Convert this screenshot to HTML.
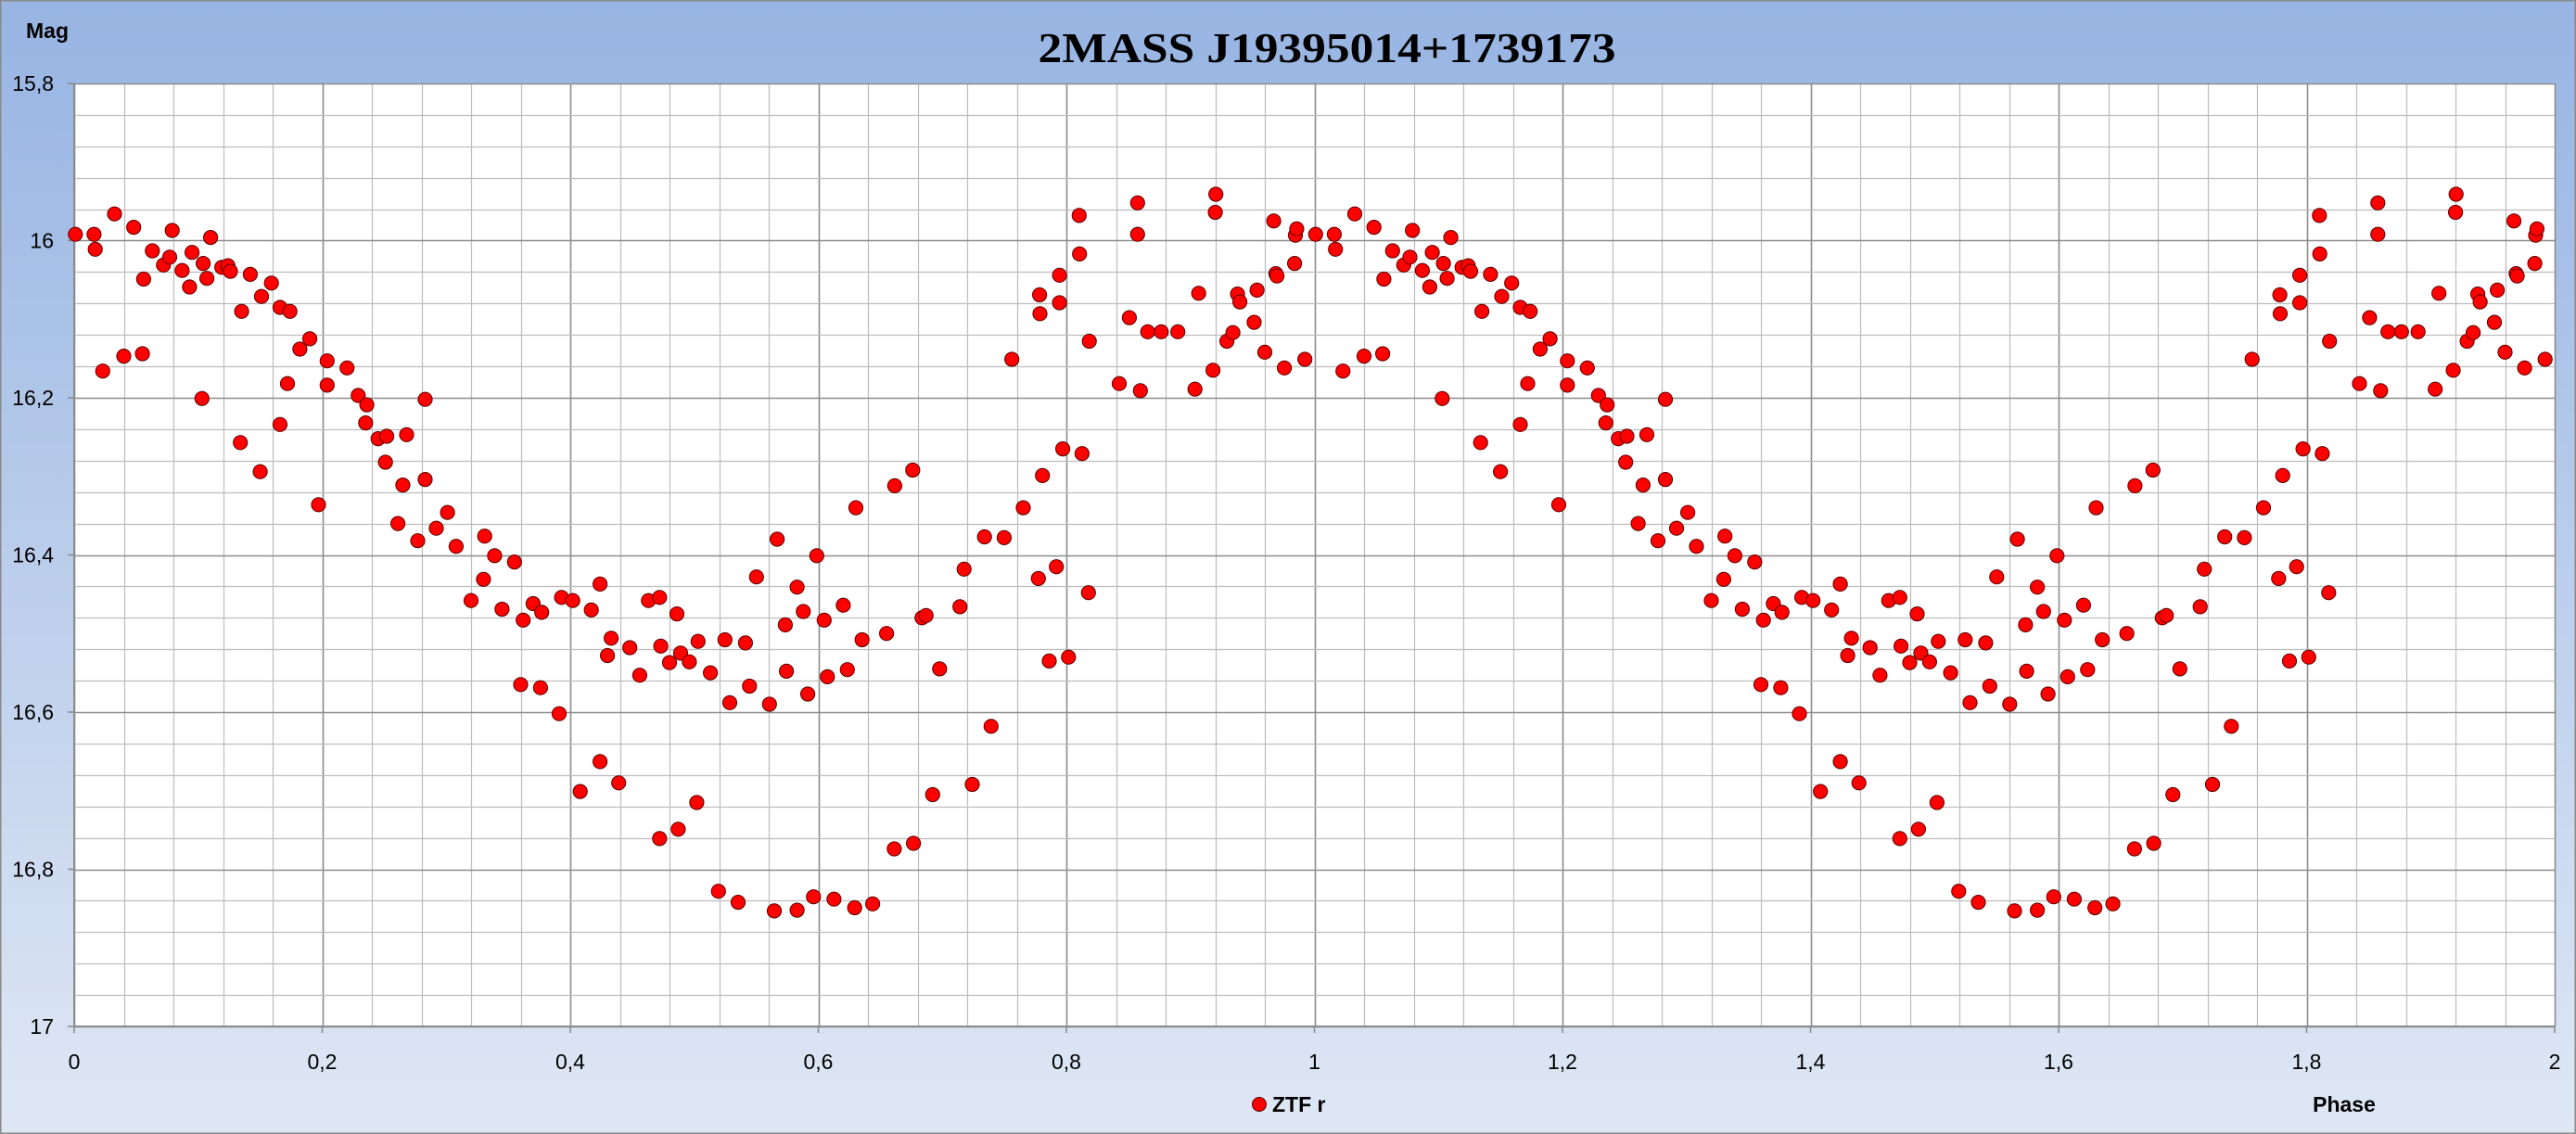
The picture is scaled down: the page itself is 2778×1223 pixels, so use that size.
<!DOCTYPE html>
<html><head><meta charset="utf-8">
<style>
html,body{margin:0;padding:0;width:2778px;height:1223px;overflow:hidden;background:#fff}
svg{display:block}
</style></head>
<body>
<svg id="chart" width="2778" height="1223" xmlns="http://www.w3.org/2000/svg">
<defs>
<linearGradient id="bg" x1="0" y1="0" x2="0" y2="1">
<stop offset="0" stop-color="#98b5e3"/>
<stop offset="0.08" stop-color="#9cb8e4"/>
<stop offset="1" stop-color="#dfe7f4"/>
</linearGradient>
</defs>
<rect x="0.5" y="0.5" width="2777" height="1222" fill="url(#bg)" stroke="#8a8a8a" stroke-width="2"/>
<rect x="80" y="90" width="2675" height="1017" fill="#ffffff"/>
<g id="grid"></g>
<g id="ticks"></g>
<g id="points"></g>
<text x="1431" y="67" text-anchor="middle" font-family="Liberation Serif, serif" font-weight="bold" font-size="46" textLength="623" lengthAdjust="spacingAndGlyphs">2MASS J19395014+1739173</text>
<text x="28" y="41" font-family="Liberation Sans, sans-serif" font-weight="bold" font-size="23">Mag</text>
<text x="2528" y="1199" text-anchor="middle" font-family="Liberation Sans, sans-serif" font-weight="bold" font-size="23">Phase</text>
<g>
<circle cx="1358" cy="1191" r="7.5" fill="#ff0000" stroke="#5a0000" stroke-width="1"/>
<text x="1372" y="1199" font-family="Liberation Sans, sans-serif" font-weight="bold" font-size="23">ZTF r</text>
</g>
</svg>
<script>
const phases=[0.001,0.016,0.017,0.023,0.0325,0.040,0.048,0.055,0.056,0.063,0.072,0.077,0.079,0.087,0.093,0.095,0.103,0.104,0.107,0.110,0.119,0.124,0.126,0.134,0.135,0.142,0.150,0.151,0.159,0.166,0.166,0.172,0.174,0.182,0.190,0.197,0.204,0.204,0.220,0.229,0.236,0.235,0.245,0.252,0.251,0.265,0.268,0.283,0.283,0.261,0.277,0.292,0.301,0.308,0.320,0.331,0.339,0.330,0.345,0.355,0.360,0.362,0.370,0.376,0.377,0.391,0.393,0.402,0.408,0.417,0.424,0.424,0.430,0.433,0.439,0.448,0.456,0.463,0.472,0.472,0.473,0.480,0.486,0.487,0.489,0.496,0.503,0.502,
0.513,0.5195,0.5247,0.5286,0.5353,0.5412,0.5445,0.5501,0.5606,0.5645,0.5668,0.5734,0.5743,0.5829,0.5829,0.5879,0.5915,0.5961,0.5987,0.6047,0.6073,0.6126,0.6201,0.6234,0.6293,0.6303,0.6353,0.6438,0.655,0.6612,0.6616,0.6761,0.6767,0.6836,0.6869,0.6922,0.6978,0.7142,0.7175,0.7241,0.734,0.7393,0.7498,0.756,0.7652,0.7774,0.7784,0.7787,0.7807,0.7862,0.7919,0.7945,0.7945,0.7971,0.8017,0.8103,0.8106,0.8126,0.8178,0.8185,0.8426,0.8508,0.8574,0.8574,0.8597,0.8656,0.8765,0.8899,0.9037,0.9067,0.9182,0.9201,0.9205,0.9294,0.9343,0.938,0.9399,0.9514,0.9537,0.96,0.9672,0.9689,0.9698,0.9758,0.984,0.9847,0.9857,0.9923];
const mags=[15.992,15.992,16.011,16.166,15.966,16.147,15.983,16.144,16.049,16.013,16.031,16.021,15.987,16.038,16.059,16.015,16.201,16.029,16.048,15.996,16.034,16.032,16.039,16.257,16.09,16.043,16.294,16.071,16.054,16.234,16.085,16.182,16.09,16.138,16.125,16.336,16.153,16.184,16.162,16.197,16.209,16.232,16.252,16.249,16.282,16.311,16.247,16.202,16.304,16.36,16.382,16.366,16.346,16.389,16.458,16.376,16.401,16.431,16.469,16.409,16.565,16.483,16.462,16.569,16.473,16.602,16.454,16.458,16.701,16.47,16.437,16.663,16.528,16.506,16.69,16.518,16.553,16.458,16.454,16.761,16.516,16.537,16.475,16.749,16.525,16.536,16.51,16.715,
16.55,16.828,16.508,16.588,16.842,16.512,16.567,16.428,16.59,16.853,16.38,16.489,16.548,16.441,16.852,16.472,16.577,16.835,16.401,16.483,16.555,16.838,16.464,16.546,16.849,16.34,16.508,16.844,16.5,16.774,16.312,16.292,16.767,16.48,16.477,16.705,16.545,16.466,16.418,16.692,16.377,16.618,16.378,16.151,16.34,16.43,16.069,16.093,16.299,16.535,16.415,16.044,16.079,16.265,16.53,15.968,16.017,16.271,16.448,16.128,16.182,16.098,15.952,15.992,16.191,16.116,16.116,16.116,16.189,16.067,16.165,15.964,15.941,16.128,16.117,16.068,16.078,16.104,16.063,16.142,15.975,16.042,16.045,16.162,16.029,15.993,15.985,16.151];
const xTickLabels=["0","0,2","0,4","0,6","0,8","1","1,2","1,4","1,6","1,8","2"];
const yTickLabels=["15,8","16","16,2","16,4","16,6","16,8","17"];

const NS="http://www.w3.org/2000/svg";
const X0=80,X1=2755,Y0=90,Y1=1107,PMIN=0,PMAX=2,MMIN=15.8,MMAX=17;
function xs(p){return X0+(p-PMIN)/(PMAX-PMIN)*(X1-X0);}
function ys(m){return Y0+(m-MMIN)/(MMAX-MMIN)*(Y1-Y0);}
function mk(tag,attrs,parent){const e=document.createElementNS(NS,tag);for(const k in attrs)e.setAttribute(k,attrs[k]);parent.appendChild(e);return e;}
const grid=document.getElementById('grid'),ticks=document.getElementById('ticks'),pts=document.getElementById('points');
for(let i=0;i<=50;i++){
  const p=PMIN+i*0.04;const x=Math.round(xs(p))+0.5;const major=i%5===0;
  const l=mk('line',{x1:x,x2:x,y1:Y0,y2:Y1,stroke:major?'#8c8c8c':'#bdbdbd','stroke-width':major?1.6:1.2},grid);
  
  
}
for(let i=0;i<=30;i++){
  const m=MMIN+i*0.04;const y=Math.round(ys(m))+0.5;const major=i%5===0;
  const l=mk('line',{x1:X0,x2:X1,y1:y,y2:y,stroke:major?'#8c8c8c':'#bdbdbd','stroke-width':major?1.6:1.2},grid);
  
  
}
mk('line',{x1:X0,x2:X0,y1:Y0,y2:Y1,stroke:'#8c8c8c','stroke-width':2},grid);
mk('line',{x1:X0,x2:X1,y1:Y1,y2:Y1,stroke:'#8c8c8c','stroke-width':2},grid);
xTickLabels.forEach((t,i)=>{
  const x=xs(PMIN+i*0.2);
  mk('line',{x1:x,x2:x,y1:Y1,y2:Y1+7,stroke:'#8c8c8c','stroke-width':1.6},ticks);
  const tx=mk('text',{x:x,y:Y1+46,'text-anchor':'middle','font-family':'Liberation Sans, sans-serif','font-size':23},ticks);
  
  
  tx.textContent=t;
});
yTickLabels.forEach((t,i)=>{
  const y=ys(MMIN+i*0.2);
  mk('line',{x1:X0-7,x2:X0,y1:y,y2:y,stroke:'#8c8c8c','stroke-width':1.6},ticks);
  const tx=mk('text',{x:58,y:y+8,'text-anchor':'end','font-family':'Liberation Sans, sans-serif','font-size':23},ticks);
  
  
  tx.textContent=t;
});
[0,1].forEach(off=>{
  phases.forEach((p,i)=>{
    const ph=p+off;if(ph>PMAX)return;
    const c=mk('circle',{cx:xs(ph).toFixed(1),cy:ys(mags[i]).toFixed(1),r:7.6,fill:'#ff0000',stroke:'#5a0000','stroke-width':1},pts);
    
    
  });
});
</script>
</body></html>
